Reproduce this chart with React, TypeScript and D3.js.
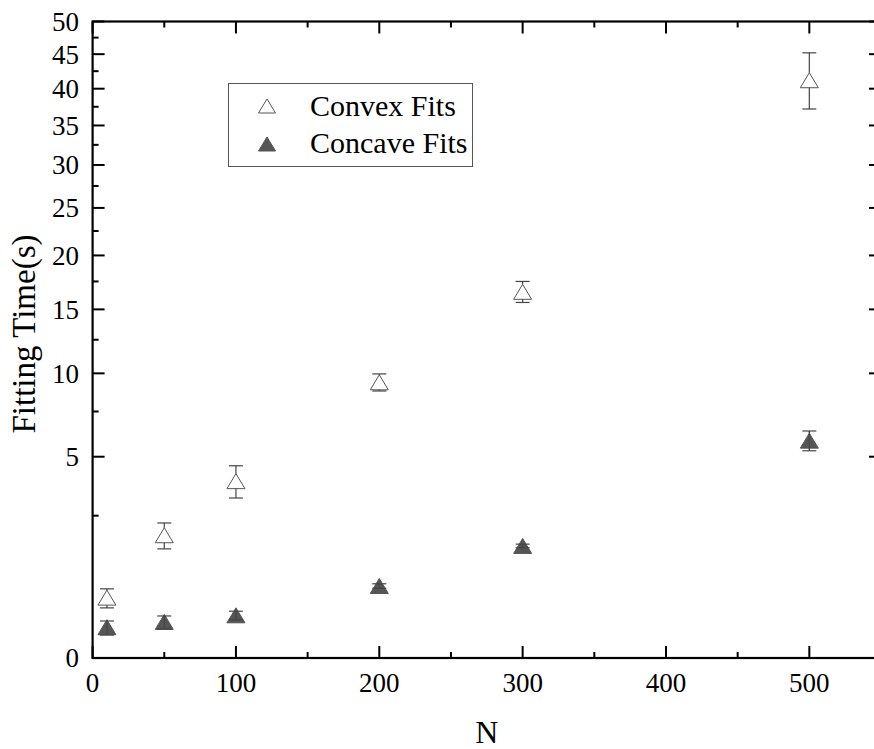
import React from "react";
import * as d3 from "d3";

const Ns = [10, 50, 100, 200, 300, 500];
const convexTimes = [0.45, 1.86, 3.86, 9.38, 16.55, 41.2];
const convexErr = [0.14, 0.39, 0.7, 0.58, 0.95, 4.0];
const concaveTimes = [0.117, 0.161, 0.225, 0.64, 1.55, 5.83];
const concaveErr = [0.052, 0.057, 0.045, 0.04, 0.05, 0.53];
const xMajorTicks = [0, 100, 200, 300, 400, 500];
const xMinorTicks = [50, 150, 250, 350, 450, 550];
const yMajorTicks = [0, 5, 10, 15, 20, 25, 30, 35, 40, 45, 50];
const yMinorTicks = [2.5, 7.5, 12.5, 17.5, 22.5, 27.5, 32.5, 37.5, 42.5, 47.5];
const seriesNames = ["Convex Fits", "Concave Fits"];

const W = 874;
const H = 749;
const left = 92.6;
const right = 881;
const top = 21.5;
const bottom = 658;

const FONT = "'Liberation Serif', 'Times New Roman', serif";

function tri(cx: number, cy: number, w: number, h: number) {
  return `M${cx},${cy - h / 2}L${cx + w / 2},${cy + h / 2}L${cx - w / 2},${cy + h / 2}Z`;
}

export default function App() {
  const x = d3.scaleLinear().domain([0, 550]).range([left, right]);
  const y = d3.scaleSqrt().domain([0, 50]).range([bottom, top]);
  const MW = 18;
  const MH = 15;
  const cap = 7;
  const errCol = "#444";

  const renderSeries = (vals: number[], errs: number[], filled: boolean) =>
    Ns.map((n, i) => {
      const cx = x(n);
      const cy = y(vals[i]);
      const yt = y(vals[i] + errs[i]);
      const yb = y(Math.max(0, vals[i] - errs[i]));
      return (
        <g key={`${filled}-${i}`}>
          <path
            d={tri(cx, cy, MW, MH)}
            fill={filled ? "#555" : "#fff"}
            stroke="#555"
            strokeWidth={1}
          />
          {yt < cy - MH / 2 && (
            <line x1={cx} x2={cx} y1={yt} y2={cy - MH / 2} stroke={errCol} strokeWidth={1.2} />
          )}
          {yb > cy + MH / 2 && (
            <line x1={cx} x2={cx} y1={cy + MH / 2} y2={yb} stroke={errCol} strokeWidth={1.2} />
          )}
          {filled && (
            <line x1={cx} x2={cx} y1={yt} y2={yb} stroke={errCol} strokeWidth={1} />
          )}
          <line x1={cx - cap} x2={cx + cap} y1={yt} y2={yt} stroke={errCol} strokeWidth={1.2} />
          <line x1={cx - cap} x2={cx + cap} y1={yb} y2={yb} stroke={errCol} strokeWidth={1.2} />
        </g>
      );
    });

  return (
    <svg
      width={W}
      height={H}
      style={{ position: "absolute", left: 0, top: 0, background: "#fff" }}
      fontFamily={FONT}
    >
      <rect x={0} y={0} width={W} height={H} fill="#fff" />
      {xMajorTicks.map((t) => (
        <g key={`xM${t}`}>
          <line x1={x(t)} x2={x(t)} y1={bottom} y2={bottom - 12} stroke="#000" strokeWidth={2} />
          <line x1={x(t)} x2={x(t)} y1={top} y2={top + 12} stroke="#000" strokeWidth={2} />
          <text x={x(t)} y={692} fontSize={27} textAnchor="middle" fill="#000">
            {t}
          </text>
        </g>
      ))}
      {xMinorTicks.map((t) => (
        <g key={`xm${t}`}>
          <line x1={x(t)} x2={x(t)} y1={bottom} y2={bottom - 6} stroke="#000" strokeWidth={2} />
          <line x1={x(t)} x2={x(t)} y1={top} y2={top + 6} stroke="#000" strokeWidth={2} />
        </g>
      ))}
      {yMajorTicks.map((t) => (
        <g key={`yM${t}`}>
          <line x1={left} x2={left + 12} y1={y(t)} y2={y(t)} stroke="#000" strokeWidth={2} />
          <line x1={right} x2={right - 12} y1={y(t)} y2={y(t)} stroke="#000" strokeWidth={2} />
          <text x={79} y={y(t)} dy="0.35em" fontSize={27} textAnchor="end" fill="#000">
            {t}
          </text>
        </g>
      ))}
      {yMinorTicks.map((t) => (
        <g key={`ym${t}`}>
          <line x1={left} x2={left + 6} y1={y(t)} y2={y(t)} stroke="#000" strokeWidth={2} />
          <line x1={right} x2={right - 6} y1={y(t)} y2={y(t)} stroke="#000" strokeWidth={2} />
        </g>
      ))}
      <rect
        x={left}
        y={top}
        width={right - left}
        height={bottom - top}
        fill="none"
        stroke="#000"
        strokeWidth={2.2}
      />
      {renderSeries(convexTimes, convexErr, false)}
      {renderSeries(concaveTimes, concaveErr, true)}
      <rect x={228.5} y={83.5} width={244} height={83} fill="#fff" stroke="#555" strokeWidth={1} />
      <path d={tri(267, 106, 17, 14)} fill="#fff" stroke="#555" strokeWidth={1} />
      <path d={tri(267, 144, 17, 14)} fill="#555" stroke="#555" strokeWidth={1} />
      <text x={310} y={116} fontSize={30} fill="#000">
        {seriesNames[0]}
      </text>
      <text x={310} y={153} fontSize={30} fill="#000">
        {seriesNames[1]}
      </text>
      <text x={(left + right) / 2} y={743} fontSize={32} textAnchor="middle" fill="#000">
        N
      </text>
      <text
        transform={`translate(35, 334) rotate(-90)`}
        fontSize={33}
        textAnchor="middle"
        fill="#000"
      >
        Fitting Time(s)
      </text>
    </svg>
  );
}
